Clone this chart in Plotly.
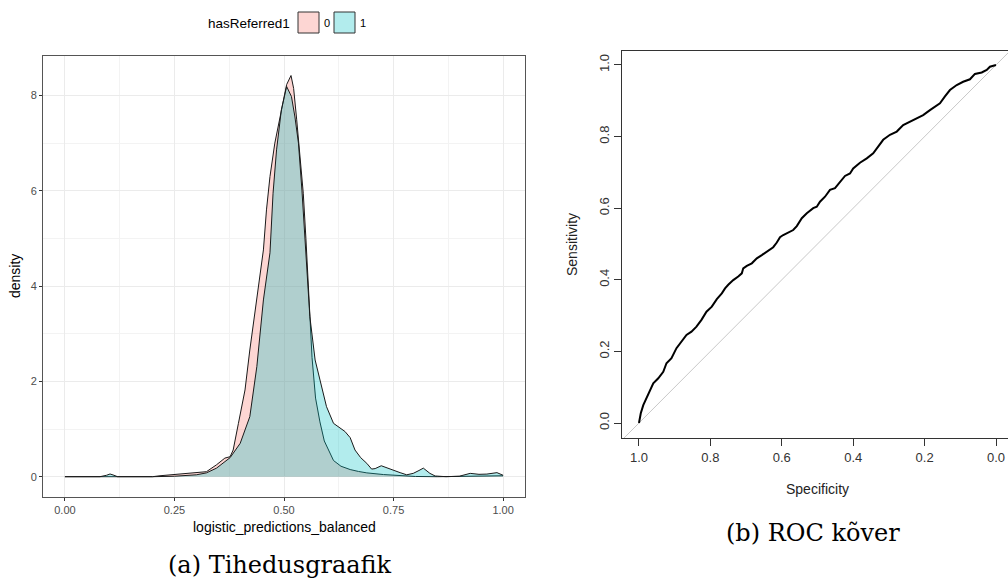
import plotly.graph_objects as go

# ---------------- data ----------------
# density of logistic_predictions_balanced, group hasReferred1 = 0
dens0_x = [0.00, 0.10, 0.20, 0.217, 0.259, 0.293, 0.323, 0.346, 0.365, 0.377, 0.384,
           0.396, 0.411, 0.422, 0.438, 0.453, 0.460, 0.468, 0.479, 0.487, 0.506,
           0.516, 0.522, 0.529, 0.537, 0.544, 0.550, 0.554, 0.558, 0.564, 0.572,
           0.582, 0.592, 0.602, 0.613, 0.630, 0.651, 0.670, 0.689, 0.727, 0.760,
           0.780, 0.800, 0.850, 0.900, 0.930, 0.960, 0.990, 1.000]
dens0_y = [0.00, 0.00, 0.00, 0.02, 0.05, 0.07, 0.105, 0.25, 0.39, 0.42, 0.56,
           1.12, 1.82, 2.66, 3.71, 4.76, 5.60, 6.30, 7.00, 7.35, 8.23,
           8.42, 8.15, 7.49, 6.75, 5.95, 5.00, 4.20, 3.40, 2.50, 1.65,
           1.15, 0.75, 0.55, 0.34, 0.22, 0.15, 0.11, 0.08, 0.045, 0.02,
           0.01, 0.005, 0.00, 0.01, 0.02, 0.02, 0.03, 0.02]

# group hasReferred1 = 1
dens1_x = [0.00, 0.08, 0.095, 0.103, 0.112, 0.12, 0.20, 0.25, 0.30, 0.323, 0.346,
           0.377, 0.400, 0.422, 0.438, 0.453, 0.468, 0.475, 0.483, 0.494, 0.506,
           0.517, 0.525, 0.533, 0.541, 0.548, 0.553, 0.559, 0.571, 0.582, 0.590,
           0.597, 0.613, 0.628, 0.639, 0.651, 0.662, 0.675, 0.689, 0.700, 0.708,
           0.722, 0.742, 0.765, 0.780, 0.795, 0.808, 0.818, 0.833, 0.845, 0.870,
           0.900, 0.925, 0.945, 0.963, 0.986, 1.000]
dens1_y = [0.00, 0.00, 0.03, 0.057, 0.03, 0.00, 0.00, 0.01, 0.04, 0.08, 0.18,
           0.40, 0.70, 1.26, 2.31, 3.71, 4.70, 5.95, 6.86, 7.70, 8.19,
           7.98, 7.55, 7.00, 6.00, 5.00, 4.20, 3.36, 2.45, 2.03, 1.75,
           1.47, 1.12, 1.02, 0.95, 0.82, 0.56, 0.40, 0.28, 0.16, 0.17,
           0.23, 0.155, 0.085, 0.04, 0.07, 0.13, 0.18, 0.07, 0.015, 0.00,
           0.01, 0.07, 0.05, 0.055, 0.085, 0.03]

group_labels = ["0", "1"]
legend_title = "hasReferred1"

# ROC curve
roc_specificity = [1.000, 0.995, 0.988, 0.979, 0.969, 0.960, 0.946, 0.932, 0.923, 0.909,
                   0.895, 0.881, 0.867, 0.853, 0.839, 0.825, 0.811, 0.796, 0.782, 0.768,
                   0.759, 0.750, 0.736, 0.722, 0.712, 0.708, 0.698, 0.684, 0.670, 0.656,
                   0.642, 0.624, 0.614, 0.605, 0.596, 0.577, 0.568, 0.558, 0.544, 0.530,
                   0.512, 0.502, 0.493, 0.479, 0.465, 0.451, 0.437, 0.423, 0.409, 0.400,
                   0.381, 0.362, 0.344, 0.330, 0.316, 0.297, 0.278, 0.260, 0.241, 0.222,
                   0.204, 0.185, 0.171, 0.157, 0.143, 0.129, 0.110, 0.092, 0.073, 0.059,
                   0.040, 0.026, 0.017, 0.003, 0.000]
roc_sensitivity = [0.000, 0.027, 0.050, 0.069, 0.088, 0.111, 0.125, 0.143, 0.167, 0.181,
                   0.209, 0.227, 0.246, 0.255, 0.269, 0.288, 0.311, 0.325, 0.346, 0.362,
                   0.376, 0.386, 0.399, 0.409, 0.418, 0.432, 0.439, 0.446, 0.460, 0.469,
                   0.479, 0.491, 0.504, 0.519, 0.525, 0.534, 0.539, 0.550, 0.572, 0.586,
                   0.600, 0.604, 0.618, 0.632, 0.651, 0.656, 0.674, 0.690, 0.697, 0.711,
                   0.727, 0.739, 0.753, 0.772, 0.791, 0.805, 0.814, 0.832, 0.842, 0.851,
                   0.860, 0.874, 0.884, 0.893, 0.912, 0.930, 0.944, 0.953, 0.960, 0.975,
                   0.979, 0.986, 0.995, 1.000, 1.000]
diag_x = [1.2, -0.2]
diag_y = [1 - v for v in diag_x]

x_ticks_a = [0.0, 0.25, 0.5, 0.75, 1.0]
x_ticklabels_a = ["0.00", "0.25", "0.50", "0.75", "1.00"]
y_ticks_a = [0, 2, 4, 6, 8]
roc_ticks = [0.0, 0.2, 0.4, 0.6, 0.8, 1.0]
roc_ticklabels = ["0.0", "0.2", "0.4", "0.6", "0.8", "1.0"]

caption_a = "(a) Tihedusgraafik"
caption_b = "(b) ROC kõver"

# ---------------- layout helpers ----------------
W, H = 1008, 583
def px(p):
    return p / W
def py(p):
    return 1 - p / H

pink_fill = "rgba(248,118,109,0.3)"
teal_fill = "rgba(0,191,196,0.3)"
sans = "Liberation Sans, Arial, sans-serif"
serif = "DejaVu Serif, serif"

fig = go.Figure()

fig.add_trace(go.Scatter(x=dens0_x, y=dens0_y, mode="lines", fill="tozeroy",
                         fillcolor=pink_fill, line=dict(color="#1a1a1a", width=1),
                         xaxis="x", yaxis="y", showlegend=False, name=group_labels[0]))
fig.add_trace(go.Scatter(x=dens1_x, y=dens1_y, mode="lines", fill="tozeroy",
                         fillcolor=teal_fill, line=dict(color="#1a1a1a", width=1),
                         xaxis="x", yaxis="y", showlegend=False, name=group_labels[1]))

fig.add_trace(go.Scatter(x=diag_x, y=diag_y, mode="lines",
                         line=dict(color="#C8C8C8", width=1),
                         xaxis="x2", yaxis="y2", showlegend=False))
fig.add_trace(go.Scatter(x=roc_specificity, y=roc_sensitivity, mode="lines",
                         line=dict(color="black", width=2),
                         xaxis="x2", yaxis="y2", showlegend=False))

grid_major = "#EBEBEB"
fig.update_layout(
    width=W, height=H, autosize=False,
    margin=dict(l=0, r=0, t=0, b=0),
    paper_bgcolor="white", plot_bgcolor="white",
    showlegend=False,
    xaxis=dict(domain=[px(43), px(525)], range=[-0.05, 1.05], anchor="y",
               tickvals=x_ticks_a, ticktext=x_ticklabels_a,
               showgrid=True, gridcolor=grid_major, gridwidth=1.1,
               minor=dict(dtick=0.125, tick0=0, showgrid=True, gridcolor="#F3F3F3", gridwidth=0.6, ticks=""),
               zeroline=False, showline=True, mirror=True, linecolor="#555555", linewidth=1,
               ticks="outside", ticklen=3, tickcolor="#333333",
               tickfont=dict(family=sans, size=11, color="#4D4D4D")),
    yaxis=dict(domain=[py(497), py(56)], range=[-0.426, 8.83], anchor="x",
               tickvals=y_ticks_a,
               showgrid=True, gridcolor=grid_major, gridwidth=1.1,
               minor=dict(dtick=1, tick0=0, showgrid=True, gridcolor="#F3F3F3", gridwidth=0.6, ticks=""),
               zeroline=False, showline=True, mirror=True, linecolor="#555555", linewidth=1,
               ticks="outside", ticklen=3, tickcolor="#333333",
               tickfont=dict(family=sans, size=11, color="#4D4D4D")),
    xaxis2=dict(domain=[px(622), 1.0], range=[1.0476, -0.0336], anchor="y2",
                tickvals=roc_ticks, ticktext=roc_ticklabels,
                showgrid=False, zeroline=False, showline=True, mirror=True,
                linecolor="#333333", linewidth=1.2,
                ticks="outside", ticklen=7, tickcolor="#333333",
                tickfont=dict(family=sans, size=13, color="#333333")),
    yaxis2=dict(domain=[py(438), py(51)], range=[-0.0419, 1.039], anchor="x2",
                tickvals=roc_ticks, ticktext=roc_ticklabels, tickangle=-90,
                showgrid=False, zeroline=False, showline=True, mirror=False,
                linecolor="#333333", linewidth=1.2,
                ticks="outside", ticklen=7, tickcolor="#333333",
                tickfont=dict(family=sans, size=13, color="#333333")),
)

annotations = [
    dict(text="density", x=px(15), y=py(276), textangle=-90,
         font=dict(family=sans, size=14, color="black")),
    dict(text="logistic_predictions_balanced", x=px(284), y=py(527),
         font=dict(family=sans, size=14, color="black")),
    dict(text="Specificity", x=px(817), y=py(489),
         font=dict(family=sans, size=14, color="#222222")),
    dict(text="Sensitivity", x=px(572), y=py(245), textangle=-90,
         font=dict(family=sans, size=14, color="#222222")),
    dict(text=caption_a, x=px(280), y=py(565),
         font=dict(family=serif, size=24, color="black")),
    dict(text=caption_b, x=px(813), y=py(533),
         font=dict(family=serif, size=24, color="black")),
    dict(text=legend_title, x=px(292), y=py(23), xanchor="right",
         font=dict(family=sans, size=13.5, color="black")),
    dict(text=group_labels[0], x=px(322), y=py(23), xanchor="left",
         font=dict(family=sans, size=11, color="black")),
    dict(text=group_labels[1], x=px(358), y=py(23), xanchor="left",
         font=dict(family=sans, size=11, color="black")),
]
for a in annotations:
    a.update(xref="paper", yref="paper", showarrow=False)
    a.setdefault("xanchor", "center")
    a.setdefault("yanchor", "middle")
fig.update_layout(annotations=annotations)

fig.update_layout(shapes=[
    dict(type="rect", xref="paper", yref="paper", x0=px(298), x1=px(319), y0=py(33), y1=py(12),
         fillcolor=pink_fill, line=dict(color="#333333", width=1)),
    dict(type="rect", xref="paper", yref="paper", x0=px(334), x1=px(355), y0=py(33), y1=py(12),
         fillcolor=teal_fill, line=dict(color="#333333", width=1)),
])

fig.write_html("out.html", config={"displayModeBar": False},
               post_script="document.body.style.margin='0px';document.body.style.overflow='hidden';")
